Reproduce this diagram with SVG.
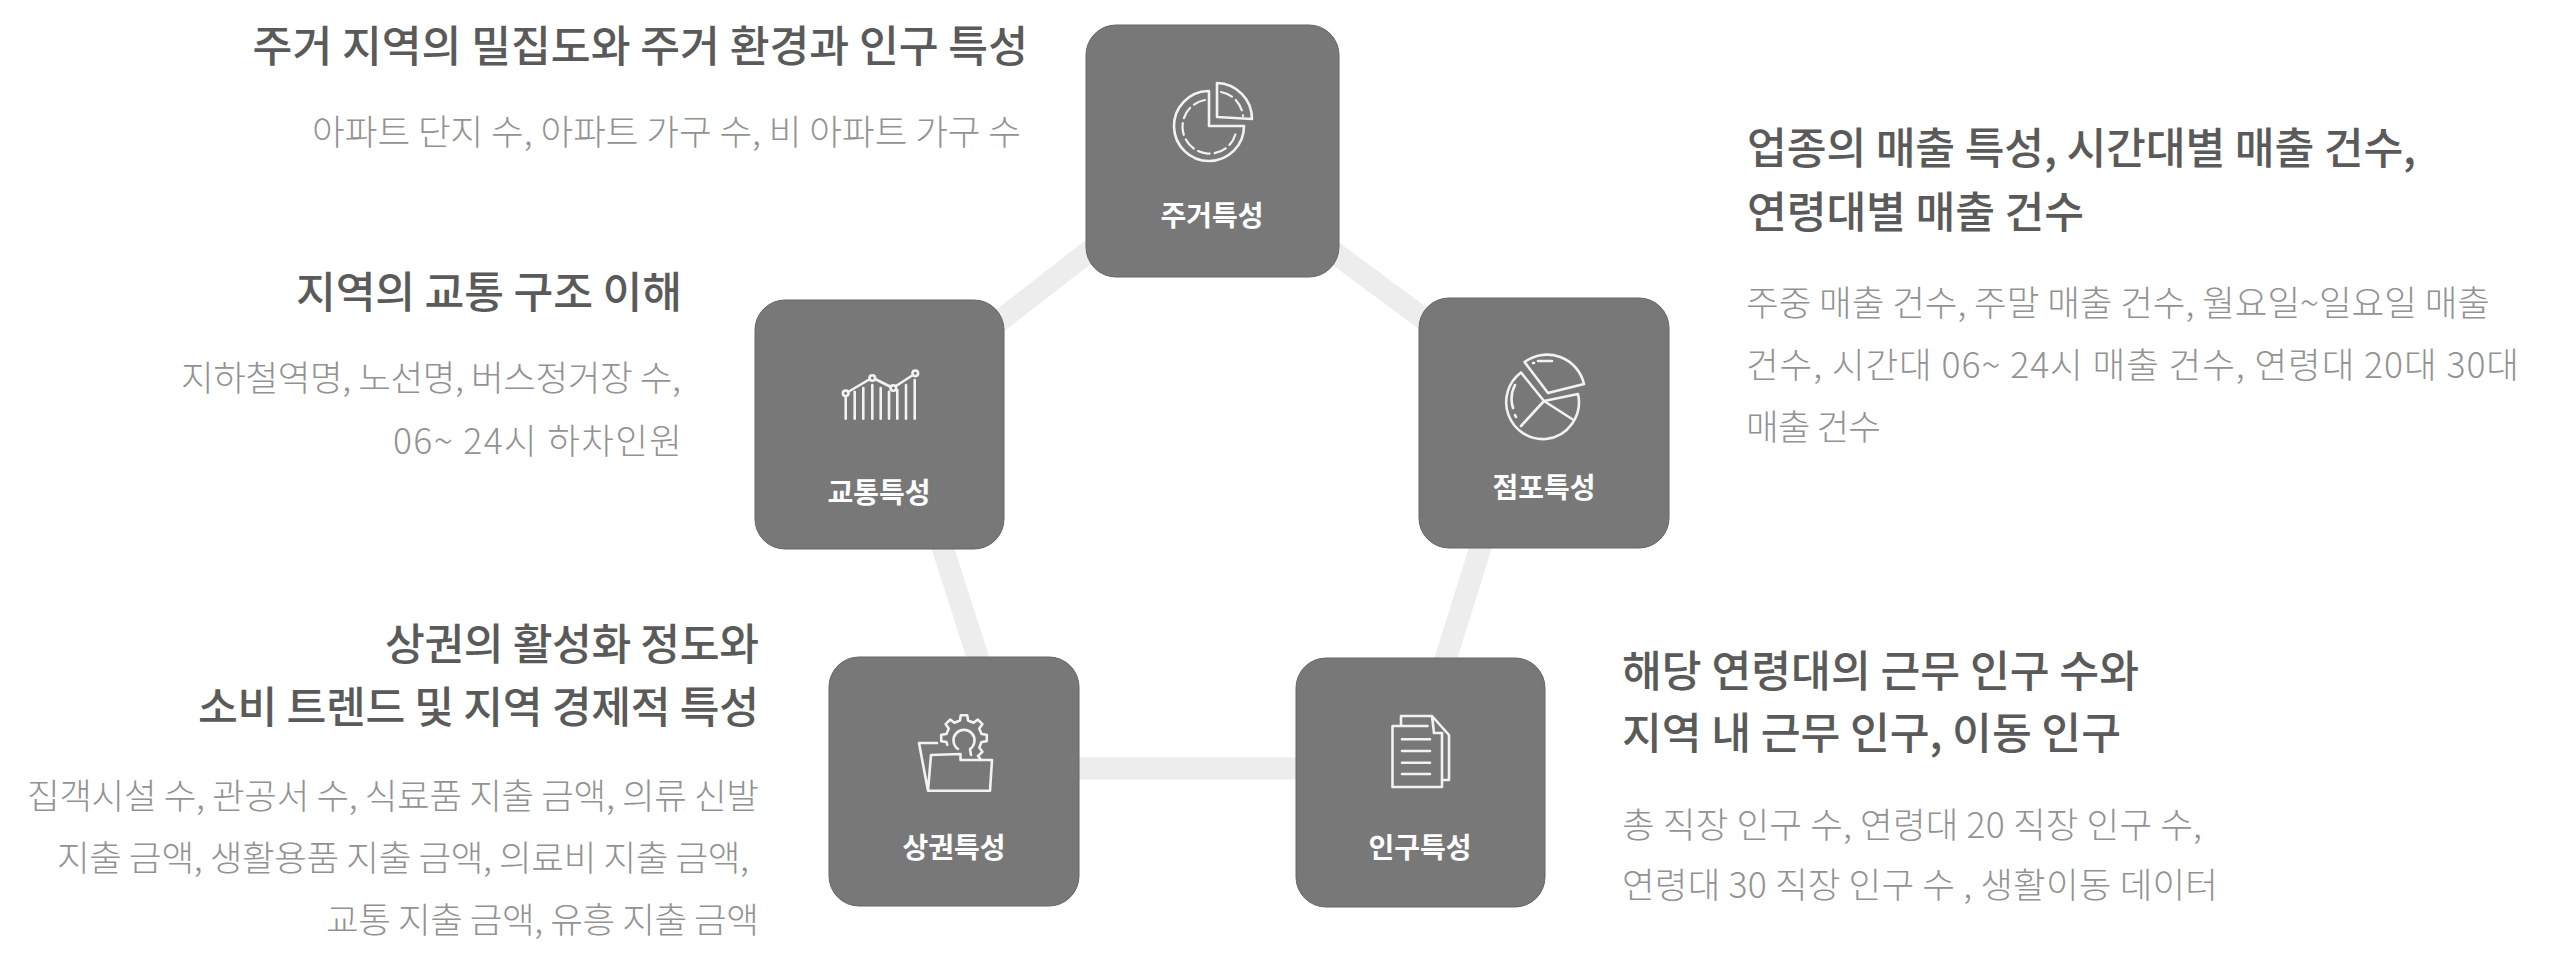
<svg xmlns="http://www.w3.org/2000/svg" width="2554" height="977" viewBox="0 0 2554 977">
<style>
text{font-family:"Noto Sans CJK KR","Noto Sans",sans-serif}
.h{font-size:43.3px;font-weight:500;fill:#5a5a5a}
.b{font-size:35.5px;font-weight:300;fill:#929292}
.n{font-size:28px;font-weight:700;fill:#fff;text-anchor:middle}
.e{text-anchor:end}
.box{fill:#787878;stroke:#666;stroke-width:1}
.i{fill:none;stroke:#f2f2f2;stroke-width:2.6;stroke-linecap:round;stroke-linejoin:round}
.d{stroke-dasharray:12 5;stroke-width:2.2}
.c{fill:none;stroke:#ededed;stroke-width:22}
</style>
<rect width="2554" height="977" fill="#fff"/>
<g id="connectors">
<line class="c" x1="1100" y1="243" x2="980" y2="336"/>
<line class="c" x1="1320" y1="242" x2="1440" y2="331"/>
<line class="c" x1="937" y1="530" x2="985" y2="680"/>
<line class="c" x1="1486" y1="530" x2="1439" y2="680"/>
<line class="c" x1="1070" y1="768.5" x2="1305" y2="768.5"/>
</g>
<g id="node-housing"><rect class="box" x="1086" y="25" width="253" height="252" rx="30"/>
<path class="i" d="M1208 91A35 35 0 1 0 1244 126H1209V91"/>
<path class="i d" d="M1205 100A27 27 0 1 0 1236 132"/>
<path class="i" d="M1217 83V117L1252 119A36 36 0 0 0 1217 83Z"/>
<path class="i d" d="M1221 92A27 27 0 0 1 1243 116"/>
<text class="n" x="1212" y="226">주거특성</text></g>
<g id="node-store"><rect class="box" x="1419" y="298" width="250" height="250" rx="30"/>
<path class="i" d="M1524.500 362L1548 393L1584 384A38 38 0 0 0 1524.500 362Z"/>
<path class="i" d="M1521 372.500A37 37 0 0 0 1546 439A37 37 0 0 0 1578 394L1544 401L1521 372.500M1544 401L1521 426M1544 401L1572 419"/>
<path class="i" d="M1515 385A30 30 0 0 0 1513 408M1515 415L1516 417M1533 363L1534 363M1538 361H1552"/>
<text class="n" x="1544" y="498">점포특성</text></g>
<g id="node-traffic"><rect class="box" x="755" y="300" width="249" height="249" rx="30"/>
<path class="i" d="M848 392L870 379M875 379L891 387M896 386L913 375M845.700 398V418.700M854.700 391.700V418.700M863.300 388V418.700M872.300 385V418.700M880.700 388V418.700M889 391.700V418.700M897.300 390V418.700M906 385V418.700M914.700 380V418.700"/>
<circle class="i" cx="845.700" cy="393.300" r="2.800"/><circle class="i" cx="872.300" cy="378" r="2.800"/><circle class="i" cx="893.300" cy="388" r="2.800"/><circle class="i" cx="915.300" cy="373.300" r="2.800"/>
<text class="n" x="879" y="503">교통특성</text></g>
<g id="node-commerce"><rect class="box" x="829" y="657" width="250" height="249" rx="30"/>
<path class="i" d="M947.300 744.750L946.460 742.050L941.230 741.200L941.230 734.800L946.460 733.950L948.740 728.460L945.620 724.160L950.160 719.620L954.460 722.740L959.950 720.460L960.800 715.200L967.200 715.200L968.050 720.460L973.540 722.740L977.840 719.620L982.380 724.160L979.260 728.460L981.540 733.950L986.770 734.800L986.770 741.200L981.540 742.050L979.260 747.540L982.380 751.840L978 756L981 760"/>
<path class="i" d="M958 749A10.500 10.500 0 1 1 970 749L971 755"/>
<path class="i" d="M937 743H919L928 790.700H990L992 760H960.500V754L931 755L928 790.700"/>
<text class="n" x="954" y="858">상권특성</text></g>
<g id="node-people"><rect class="box" x="1296" y="658" width="249" height="249" rx="30"/>
<path class="i" d="M1401 725V716H1432L1449 735V780H1442M1432 716L1434 733"/>
<path class="i" d="M1427.500 726H1392.500V787H1442V733H1434M1402 739.300H1430M1402 751H1430M1402 762.700H1430M1402 774H1430"/>
<text class="n" x="1420" y="858">인구특성</text></g>
<g id="t-housing"><text class="h e" x="1028" y="62">주거 지역의 밀집도와 주거 환경과 인구 특성</text>
<text class="b e" x="1021" y="145">아파트 단지 수, 아파트 가구 수, 비 아파트 가구 수</text></g>
<g id="t-traffic"><text class="h e" x="682" y="308" textLength="386">지역의 교통 구조 이해</text>
<text class="b e" x="681" y="391" textLength="500">지하철역명, 노선명, 버스정거장 수,</text>
<text class="b e" x="682" y="454" textLength="289">06~ 24시 하차인원</text></g>
<g id="t-commerce"><text class="h e" x="759" y="660" textLength="374">상권의 활성화 정도와</text>
<text class="h e" x="759" y="723" textLength="561">소비 트렌드 및 지역 경제적 특성</text>
<text class="b e" x="759" y="809" textLength="732">집객시설 수, 관공서 수, 식료품 지출 금액, 의류 신발</text>
<text class="b e" x="749" y="871" textLength="692">지출 금액, 생활용품 지출 금액, 의료비 지출 금액,</text>
<text class="b e" x="759" y="933" textLength="433">교통 지출 금액, 유흥 지출 금액</text></g>
<g id="t-store"><text class="h" x="1747" y="164" textLength="669">업종의 매출 특성, 시간대별 매출 건수,</text>
<text class="h" x="1747" y="228" textLength="337">연령대별 매출 건수</text>
<text class="b" x="1746" y="316" textLength="744">주중 매출 건수, 주말 매출 건수, 월요일~일요일 매출</text>
<text class="b" x="1746" y="378" textLength="773">건수, 시간대 06~ 24시 매출 건수, 연령대 20대 30대</text>
<text class="b" x="1746" y="440" textLength="135">매출 건수</text></g>
<g id="t-people"><text class="h" x="1622" y="687" textLength="517">해당 연령대의 근무 인구 수와</text>
<text class="h" x="1622" y="749" textLength="499">지역 내 근무 인구, 이동 인구</text>
<text class="b" x="1622" y="838" textLength="580">총 직장 인구 수, 연령대 20 직장 인구 수,</text>
<text class="b" x="1622" y="898" textLength="596">연령대 30 직장 인구 수 , 생활이동 데이터</text></g>
</svg>
